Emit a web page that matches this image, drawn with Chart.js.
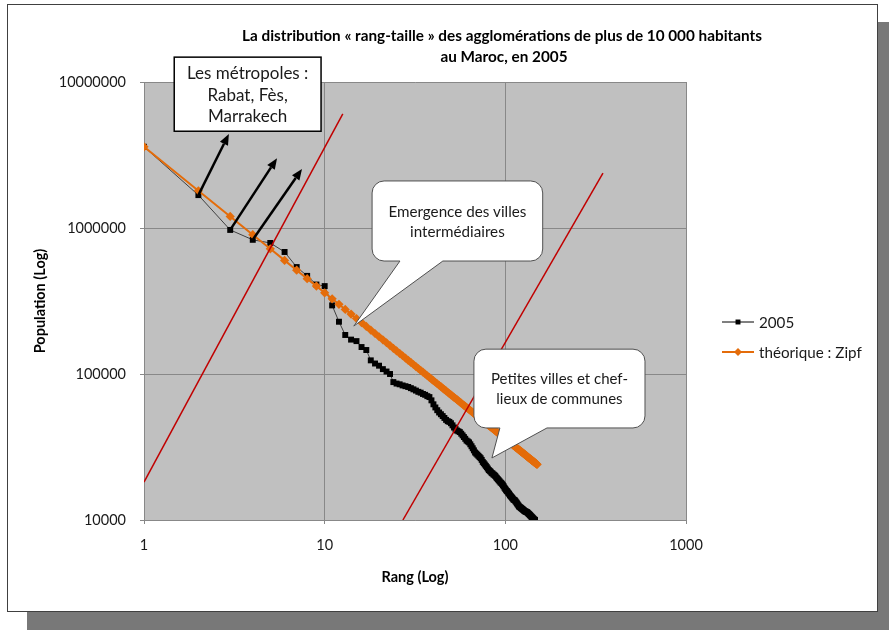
<!DOCTYPE html>
<html>
<head>
<meta charset="utf-8">
<script src="https://cdn.jsdelivr.net/npm/chart.js@4"></script>
<style>
  body { margin: 0; background: #fff; }
  #frame { position: absolute; left: 7px; top: 4px; width: 869px; height: 606px; border: 1px solid #404040; background: #fff; box-shadow: 20px 18px 0 #787878; }
  #wrap { position: absolute; left: 0; top: 0; width: 889px; height: 630px; }
</style>
</head>
<body>
<div id="frame"></div>
<div id="wrap"><canvas id="myChart"></canvas></div>
<script>
// population of each agglomeration, sorted by rank (rank = position + 1)
const pop2005 = [
  3600000, 1680000, 970000, 830000, 790000, 685000, 540000, 470000, 410000, 400000,
  295000, 228000, 185000, 172000, 168000, 153000, 146000, 124000, 118000, 114000,
  108000, 104000, 100000, 88000, 86000, 85000, 83500, 82500, 81500, 80000,
  78500, 77000, 75500, 74500, 73000, 72000, 70500, 69500, 66000, 62000,
  59000, 56500, 54500, 53000, 51500, 50000, 48500, 47500, 47000, 46000,
  44500, 43000, 42000, 41000, 40500, 40000, 39000, 38000, 37000, 36000,
  35000, 34500, 34000, 33000, 32000, 31000, 30000, 29000, 28500, 28000,
  27500, 27000, 26500, 25800, 25000, 24500, 24000, 23500, 23000, 22500,
  22000, 21700, 21400, 21000, 20800, 20500, 20300, 20000, 19600, 19300,
  19000, 18700, 18400, 18100, 17900, 17600, 17300, 17000, 16600, 16300,
  16000, 15800, 15600, 15300, 15100, 14800, 14600, 14400, 14200, 14000,
  13800, 13700, 13600, 13400, 13200, 13000, 12800, 12600, 12400, 12300,
  12200, 12100, 12000, 11900, 11800, 11700, 11600, 11500, 11450, 11400,
  11350, 11300, 11200, 11100, 11000, 10900, 10800, 10700, 10600, 10500,
  10400, 10300, 10200, 10100, 10050, 10000
];

// theoretical Zipf values (first city / rank)
const zipf = [
  3600000, 1800000, 1200000, 900000, 720000, 600000, 514286, 450000, 400000, 360000,
  327273, 300000, 276923, 257143, 240000, 225000, 211765, 200000, 189474, 180000,
  171429, 163636, 156522, 150000, 144000, 138462, 133333, 128571, 124138, 120000,
  116129, 112500, 109091, 105882, 102857, 100000, 97297, 94737, 92308, 90000,
  87805, 85714, 83721, 81818, 80000, 78261, 76596, 75000, 73469, 72000,
  70588, 69231, 67925, 66667, 65455, 64286, 63158, 62069, 61017, 60000,
  59016, 58065, 57143, 56250, 55385, 54545, 53731, 52941, 52174, 51429,
  50704, 50000, 49315, 48649, 48000, 47368, 46753, 46154, 45570, 45000,
  44444, 43902, 43373, 42857, 42353, 41860, 41379, 40909, 40449, 40000,
  39560, 39130, 38710, 38298, 37895, 37500, 37113, 36735, 36364, 36000,
  35644, 35294, 34951, 34615, 34286, 33962, 33645, 33333, 33028, 32727,
  32432, 32143, 31858, 31579, 31304, 31034, 30769, 30508, 30252, 30000,
  29752, 29508, 29268, 29032, 28800, 28571, 28346, 28125, 27907, 27692,
  27481, 27273, 27068, 26866, 26667, 26471, 26277, 26087, 25899, 25714,
  25532, 25352, 25175, 25000, 24828, 24658, 24490, 24324, 24161, 24000
];

const xTicks = [1, 10, 100, 1000];
const yTicks = [10000, 100000, 1000000, 10000000];

// red guide lines: [rank, population] at both ends
const guideA = [[1, 18200], [12.6, 6040000]];
const guideB = [[27.1, 10000], [347, 2380000]];

// arrows from Rabat, Fès, Marrakech towards the label
const arrowFrom = [2, 3, 4];
const arrowTo = [[2.95, 4410000], [5.45, 3010000], [7.49, 2540000]];

const titleLines = ["La distribution « rang-taille » des agglomérations de plus de 10 000 habitants", "au Maroc, en 2005"];
const seriesNames = ["2005", "théorique : Zipf"];

const FONT = "Lato, 'Open Sans', sans-serif";

function px(chart, xv, yv) {
  return [chart.scales.x.getPixelForValue(xv), chart.scales.y.getPixelForValue(yv)];
}

function calloutPath(ctx, l, t, r, b, rad, tip, b1, b2) {
  ctx.beginPath();
  ctx.moveTo(l + rad, t);
  ctx.lineTo(r - rad, t);
  ctx.arcTo(r, t, r, t + rad, rad);
  ctx.lineTo(r, b - rad);
  ctx.arcTo(r, b, r - rad, b, rad);
  ctx.lineTo(b2, b);
  ctx.lineTo(tip[0], tip[1]);
  ctx.lineTo(b1, b);
  ctx.lineTo(l + rad, b);
  ctx.arcTo(l, b, l, b - rad, rad);
  ctx.lineTo(l, t + rad);
  ctx.arcTo(l, t, l + rad, t, rad);
  ctx.closePath();
}

function textBlock(ctx, lines, cx, cy, size, lh) {
  ctx.font = size + "px " + FONT;
  ctx.fillStyle = "#1a1a1a";
  ctx.textAlign = "center";
  ctx.textBaseline = "middle";
  const y0 = cy - (lines.length - 1) * lh / 2;
  lines.forEach((s, i) => ctx.fillText(s, cx, y0 + i * lh));
}

const callouts = [
  { lines: ["Emergence des villes", "intermédiaires"], box: [18.3, 161, 2100000, 594000], tip: [14.5, 213000], base: [26.1, 45.1], size: 15.2, lh: 19.5 },
  { lines: ["Petites villes et chef-", "lieux de communes"], box: [67, 593, 148000, 42700], tip: [84.3, 26600], base: [93.3, 170], size: 15, lh: 20 }
];
const metroBox = { lines: ["Les métropoles :", "Rabat, Fès,", "Marrakech"], box: [1.47, 9.55, 14800000, 4600000], size: 17, lh: 21.5 };

const decorations = {
  id: "decorations",
  beforeDraw(chart) {
    const { ctx, chartArea: a } = chart;
    ctx.save();
    ctx.fillStyle = "#c0c0c0";
    ctx.fillRect(a.left, a.top, a.right - a.left, a.bottom - a.top);
    ctx.restore();
  },
  afterDatasetsDraw(chart) {
    const ctx = chart.ctx;
    ctx.save();
    // arrows
    ctx.strokeStyle = "#000";
    ctx.fillStyle = "#000";
    ctx.lineWidth = 2.5;
    arrowFrom.forEach((r, i) => {
      const [x0, y0] = px(chart, r, pop2005[r - 1]);
      const [x1, y1] = px(chart, arrowTo[i][0], arrowTo[i][1]);
      const ang = Math.atan2(y1 - y0, x1 - x0);
      const hl = 11, hw = 4.5;
      const bx = x1 - hl * Math.cos(ang), by = y1 - hl * Math.sin(ang);
      ctx.beginPath();
      ctx.moveTo(x0, y0);
      ctx.lineTo(bx, by);
      ctx.stroke();
      ctx.beginPath();
      ctx.moveTo(x1, y1);
      ctx.lineTo(bx + hw * Math.sin(ang), by - hw * Math.cos(ang));
      ctx.lineTo(bx - hw * Math.sin(ang), by + hw * Math.cos(ang));
      ctx.closePath();
      ctx.fill();
    });
    // callouts
    callouts.forEach(c => {
      const [l, t] = px(chart, c.box[0], c.box[2]);
      const [r, b] = px(chart, c.box[1], c.box[3]);
      const tip = px(chart, c.tip[0], c.tip[1]);
      const b1 = chart.scales.x.getPixelForValue(c.base[0]);
      const b2 = chart.scales.x.getPixelForValue(c.base[1]);
      calloutPath(ctx, l, t, r, b, 12, tip, b1, b2);
      ctx.fillStyle = "#fff";
      ctx.fill();
      ctx.lineWidth = 1;
      ctx.strokeStyle = "#505050";
      ctx.stroke();
      textBlock(ctx, c.lines, (l + r) / 2, (t + b) / 2 + 1, c.size, c.lh);
    });
    // metropoles box
    const [ml, mt] = px(chart, metroBox.box[0], metroBox.box[2]);
    const [mr, mb] = px(chart, metroBox.box[1], metroBox.box[3]);
    ctx.fillStyle = "#fff";
    ctx.fillRect(ml, mt, mr - ml, mb - mt);
    ctx.lineWidth = 1.5;
    ctx.strokeStyle = "#000";
    ctx.strokeRect(ml, mt, mr - ml, mb - mt);
    textBlock(ctx, metroBox.lines, (ml + mr) / 2, (mt + mb) / 2 + 1, metroBox.size, metroBox.lh);
    ctx.restore();
  },
  afterDraw(chart) {
    const ctx = chart.ctx;
    ctx.save();
    // title
    ctx.fillStyle = "#000";
    ctx.font = "bold 15.3px " + FONT;
    ctx.textAlign = "center";
    ctx.textBaseline = "middle";
    ctx.fillText(titleLines[0], 502, 36);
    ctx.fillText(titleLines[1], 504, 57);
    // legend
    const items = [
      { y: 322, color: "#000", style: "rect", r: 3.5 },
      { y: 352, color: "#e46c0a", style: "rectRot", r: 4 }
    ];
    items.forEach((it, i) => {
      ctx.strokeStyle = it.color;
      ctx.lineWidth = i === 0 ? 1 : 2;
      ctx.beginPath();
      ctx.moveTo(722, it.y);
      ctx.lineTo(754, it.y);
      ctx.stroke();
      ctx.fillStyle = it.color;
      Chart.helpers.drawPoint(ctx, { pointStyle: it.style, radius: it.r, borderWidth: 0 }, 738, it.y);
      ctx.fillStyle = "#1a1a1a";
      ctx.font = "15.2px " + FONT;
      ctx.textAlign = "left";
      ctx.fillText(seriesNames[i], 759, it.y + 1);
    });
    ctx.restore();
  }
};

const ctx = document.getElementById("myChart").getContext("2d");
const myChart = new Chart(ctx, {
  type: "scatter",
  data: {
    datasets: [
      {
        label: seriesNames[0],
        data: pop2005.map((p, i) => ({ x: i + 1, y: p })),
        showLine: true,
        borderColor: "#404040",
        borderWidth: 1,
        backgroundColor: "#000",
        pointBorderColor: "#000",
        pointStyle: "rect",
        pointRadius: 4.2,
        pointBorderWidth: 0,
        order: 2
      },
      {
        label: seriesNames[1],
        data: zipf.map((p, i) => ({ x: i + 1, y: p })),
        showLine: true,
        borderColor: "#e46c0a",
        borderWidth: 2,
        backgroundColor: "#e46c0a",
        pointStyle: "rectRot",
        pointRadius: 4.6,
        pointBorderWidth: 0,
        order: 1
      },
      {
        label: "guideA",
        data: guideA.map(p => ({ x: p[0], y: p[1] })),
        showLine: true,
        borderColor: "#c00000",
        borderWidth: 1.5,
        pointRadius: 0,
        order: 0
      },
      {
        label: "guideB",
        data: guideB.map(p => ({ x: p[0], y: p[1] })),
        showLine: true,
        borderColor: "#c00000",
        borderWidth: 1.5,
        pointRadius: 0,
        order: 0
      }
    ]
  },
  options: {
    responsive: true,
    maintainAspectRatio: false,
    animation: false,
    layout: { padding: { left: 28, right: 203, top: 82, bottom: 40 } },
    plugins: {
      legend: { display: false },
      tooltip: { enabled: false }
    },
    scales: {
      x: {
        type: "logarithmic",
        min: 1,
        max: 1000,
        afterBuildTicks: (s) => { s.ticks = xTicks.map(v => ({ value: v })); },
        afterFit: (s) => { s.height = 70; },
        ticks: {
          callback: (v) => String(v),
          color: "#1a1a1a",
          font: { family: FONT, size: 14.5 },
          padding: 13,
          maxRotation: 0
        },
        grid: { color: "#888", lineWidth: 1, tickLength: 4, tickColor: "#888" },
        border: { color: "#888" },
        title: { display: true, text: "Rang (Log)", color: "#000", font: { family: FONT, size: 14.5, weight: "bold" } }
      },
      y: {
        type: "logarithmic",
        min: 10000,
        max: 10000000,
        afterBuildTicks: (s) => { s.ticks = yTicks.map(v => ({ value: v })); },
        afterFit: (s) => { s.width = 116; },
        ticks: {
          callback: (v) => String(v),
          color: "#1a1a1a",
          font: { family: FONT, size: 14.5 },
          padding: 14
        },
        grid: { color: "#888", lineWidth: 1, tickLength: 4, tickColor: "#888" },
        border: { color: "#888" },
        title: { display: true, text: "Population (Log)", color: "#000", font: { family: FONT, size: 14.5, weight: "bold" } }
      }
    }
  },
  plugins: [decorations]
});
</script>
</body>
</html>
